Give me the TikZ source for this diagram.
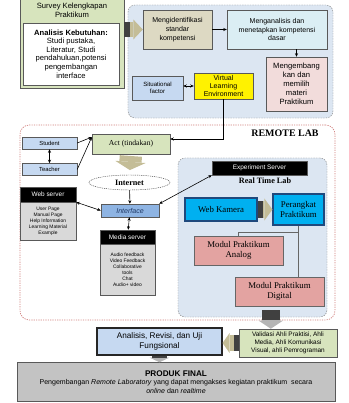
\documentclass[tikz,border=0pt]{standalone}
\usepackage{fontspec}
\setmainfont{Liberation Serif}
\setsansfont{Liberation Sans}
\usepackage{xcolor}
\usetikzlibrary{positioning, arrows.meta, shapes.geometric, calc}
\definecolor{survgreen}{HTML}{D7E4BD}
\definecolor{khaki}{HTML}{DDD9C3}
\definecolor{iceblue}{HTML}{DBEEF4}
\definecolor{rosepink}{HTML}{F2DCDB}
\definecolor{paleblue}{HTML}{C6D9F1}
\definecolor{ifaceblue}{HTML}{8EB4E3}
\definecolor{ifacetext}{HTML}{1F3864}
\definecolor{regionblue}{HTML}{DCE6F2}
\definecolor{camblue}{HTML}{00B0F0}
\definecolor{camnavy}{HTML}{1F497D}
\definecolor{modulred}{HTML}{E3A3A1}
\definecolor{lightgray}{HTML}{D9D9D9}
\definecolor{finalgray}{HTML}{C3C3C3}
\definecolor{arrowtan}{HTML}{C4BD97}
\definecolor{arrowgray}{HTML}{B5B5B5}
\definecolor{stubgray}{HTML}{404040}
\definecolor{dotred}{HTML}{D07C7A}

\begin{document}
\begin{tikzpicture}[x=0.03cm, y=-0.03cm,
    box/.style={draw=black!65, align=center, inner sep=1pt, font=\sffamily\fontsize{6}{7.5}\selectfont},
    rmbox/.style={box, font=\rmfamily\fontsize{7.5}{9}\selectfont},
    head/.style={box, fill=black, text=white, font=\sffamily\fontsize{5.5}{6.5}\selectfont},
    listbox/.style={box, fill=lightgray, font=\sffamily\fontsize{4.2}{5.2}\selectfont},
    region/.style={draw=black!50, rounded corners=6pt, dash pattern=on 1.2pt off 1pt, fill=regionblue},
    arr/.style={-{Stealth[length=3pt, width=2.6pt]}, line width=0.5pt},
    dblarr/.style={{Stealth[length=3pt, width=2.6pt]}-{Stealth[length=3pt, width=2.6pt]}, line width=0.5pt},
    tree/.style={draw=black!60, line width=0.6pt},
    fatarrow/.style={draw=arrowtan, line width=13pt, -{Triangle[line width=0pt, length=8pt, width=17pt]}},
    stub/.style={postaction={draw=stubgray, arrows=-, dash pattern=on #1 off 500pt}}
]

\useasboundingbox (0,0) rectangle (349,403);

% design stage
\node[region, minimum width=6.15cm, minimum height=3.39cm] (design) at (230.5,61.5) {};
\node[box, fill=survgreen, minimum width=3.12cm, minimum height=2.67cm,
      label={[name=surveytitle, anchor=north, align=center, inner sep=1pt, yshift=-2pt,
              font=\sffamily\fontsize{6.5}{8}\selectfont]north:Survey Kelengkapan\\Praktikum}] (survey) at (72,43.5) {};
\node[box, fill=white, minimum width=2.88cm, minimum height=1.86cm, font=\sffamily\fontsize{6.5}{7.3}\selectfont] (kebutuhan) at (71,54)
    {\textbf{Analisis Kebutuhan:}\\Studi pustaka,\\Literatur, Studi\\pendahuluan,potensi\\pengembangan\\interface};
\node[box, fill=khaki, minimum width=2.07cm, minimum height=1.17cm] (ident) at (177.5,29.5) {Mengidentifikasi\\standar\\kompetensi};
\node[box, fill=iceblue, minimum width=3cm, minimum height=1.17cm] (analisa) at (277,29.5) {Menganalisis dan\\menetapkan kompetensi\\dasar};
\node[box, fill=rosepink, minimum width=1.83cm, minimum height=1.62cm, font=\sffamily\fontsize{6.5}{7.6}\selectfont] (kembang) at (296.5,84)
    {Mengembang\\kan dan\\memilih\\materi\\Praktikum};
\node[box, fill=paleblue, minimum width=1.53cm, minimum height=0.72cm, font=\sffamily\fontsize{5.2}{6}\selectfont] (situasi) at (157.5,88) {Situational\\factor};
\node[box, fill=yellow, minimum width=1.77cm, minimum height=0.78cm, font=\sffamily\fontsize{6}{6.6}\selectfont] (vle) at (223.5,86) {Virtual\\Learning\\Environment};

% remote lab
\node[draw=dotred, line width=0.6pt, rounded corners=8pt, dash pattern=on 1pt off 1pt, minimum width=9.45cm, minimum height=5.85cm] (remote) at (177.5,222.5) {};
\node[font=\rmfamily\bfseries\fontsize{8.5}{10}\selectfont, inner sep=0pt] (remotelabel) at (285,133) {REMOTE LAB};
\node[box, fill=paleblue, minimum width=1.65cm, minimum height=0.36cm, font=\sffamily\fontsize{5}{6}\selectfont] (student) at (49.5,143) {Student};
\node[box, fill=paleblue, minimum width=1.65cm, minimum height=0.36cm, font=\sffamily\fontsize{5}{6}\selectfont, below=0.42cm of student] (teacher) {Teacher};
\node[rmbox, fill=survgreen, minimum width=2.34cm, minimum height=0.6cm, font=\rmfamily\fontsize{6.5}{8}\selectfont] (act) at (131,144) {Act (tindakan)};
\node[ellipse, draw=black!75, dash pattern=on 0.8pt off 0.8pt, minimum width=2.43cm, minimum height=0.45cm, inner sep=0pt,
      font=\rmfamily\bfseries\fontsize{7}{8}\selectfont] (internet) at (129.5,182.5) {Internet};
\node[box, fill=ifaceblue, text=ifacetext, minimum width=1.74cm, minimum height=0.39cm, font=\sffamily\itshape\fontsize{6}{7}\selectfont] (iface) at (130,210.5) {Interface};
\node[head, minimum width=1.68cm, minimum height=0.45cm] (webhead) at (48,194.5) {Web server};
\node[listbox, minimum width=1.68cm, minimum height=1.14cm, below=0pt of webhead] (webbody) {User Page\\Manual Page\\Help Information\\Learning Material\\Example};
\node[head, minimum width=1.65cm, minimum height=0.42cm] (mediahead) at (127.5,237) {Media server};
\node[listbox, minimum width=1.65cm, minimum height=1.53cm, below=0pt of mediahead] (mediabody) {Audio feedback\\Video Feedback\\Collaborative\\tools\\Chat\\Audio+ video};

% experiment server
\node[region, minimum width=4.47cm, minimum height=4.77cm] (explab) at (252.5,237.5) {};
\node[head, minimum width=2.85cm, minimum height=0.42cm] (exphead) at (259.5,168) {Experiment Server};
\node[font=\rmfamily\bfseries\fontsize{7}{8}\selectfont, inner sep=0pt] (rtl) at (265,181) {Real Time Lab};
\node[rmbox, fill=camblue, draw=camnavy, line width=0.9pt, minimum width=2.16cm, minimum height=0.69cm] (kamera) at (221,209.5) {Web Kamera};
\node[rmbox, fill=camblue, draw=camnavy, line width=0.9pt, minimum width=1.53cm, minimum height=0.93cm] (perangkat) at (298.5,209.5) {Perangkat\\Praktikum};
\node[rmbox, fill=modulred, draw=black!60, line width=0.7pt, minimum width=2.67cm, minimum height=0.87cm] (analog) at (238.5,250.5) {Modul Praktikum\\Analog};
\node[rmbox, fill=modulred, draw=black!60, line width=0.7pt, minimum width=2.67cm, minimum height=0.87cm] (digital) at (279.5,291.5) {Modul Praktikum\\Digital};

% evaluation
\node[box, fill=survgreen, minimum width=2.94cm, minimum height=0.84cm, font=\sffamily\fontsize{5.5}{6.6}\selectfont] (validasi) at (288,343)
    {Validasi Ahli Praktisi, Ahli\\Media, Ahli Komunikasi\\Visual, ahli Pemrograman};
\node[box, fill=paleblue, draw=black!85, line width=0.9pt, minimum width=3.75cm, minimum height=0.81cm, font=\sffamily\fontsize{7}{8.5}\selectfont] (analisis) at (159.5,341.5)
    {Analisis, Revisi, dan Uji\\Fungsional};
\node[box, fill=finalgray, minimum width=9.54cm, minimum height=1.17cm] (produk) at (176,382)
    {{\bfseries\fontsize{7}{8.5}\selectfont PRODUK FINAL}\\Pengembangan \textit{Remote Laboratory} yang dapat mengakses kegiatan praktikum~ secara\\\textit{online} dan \textit{realtime}};

% connectors
\draw[fatarrow, stub=5pt] (survey.east |- ident.west) -- (ident.west);
\draw[arr] (ident) -- (analisa);
\draw[arr] (kembang.north |- analisa.south) -- (kembang.north);
\draw[dblarr] (situasi.east |- vle.west) -- (vle.west);
\draw[arr] (vle.south) |- ([yshift=0.15cm]act.east);
\draw[arr] (student.east) -- ([yshift=-0.1cm]act.north west);
\draw[arr] (teacher.east) -- ([yshift=-0.1cm]act.north west);
\draw[dblarr] (student) -- (teacher);
\draw[fatarrow, line width=19pt, -{Triangle[line width=0pt, length=7pt, width=26pt]}, shorten <=1.5pt, shorten >=4pt] (act.south) -- (internet.north);
\draw[arr] (internet) -- (iface);
\draw[dblarr] (webhead.south east) -- (iface.west);
\draw[dblarr] (iface) -- (mediahead);
\draw[dblarr] (exphead.south west) -- (iface.north east);
\draw[fatarrow, line width=15pt, -{Triangle[line width=0pt, length=7pt, width=19pt]}, stub=5pt] (kamera) -- (perangkat);
\coordinate (branch) at (perangkat.south |- 0,232);
\draw[tree] (perangkat.south) -- (perangkat.south |- digital.north);
\draw[tree] (branch) -| (analog.north);
\draw[fatarrow, draw=arrowgray, line width=15pt, -{Triangle[line width=0pt, length=7pt, width=21pt]}, stub=8pt, shorten <=-6pt]
    ([xshift=0.55cm]explab.south) -- ([xshift=0.55cm]explab.south |- validasi.north);
\draw[fatarrow, line width=13pt, -{Triangle[line width=0pt, length=6pt, width=17pt]}, stub=4pt] (validasi.west) -- (validasi.west -| analisis.east);
\draw[fatarrow, draw=arrowgray, line width=13pt, -{Triangle[line width=0pt, length=4pt, width=17pt]}, stub=2pt] (analisis.south) -- (analisis.south |- produk.north);

\end{tikzpicture}
\end{document}
